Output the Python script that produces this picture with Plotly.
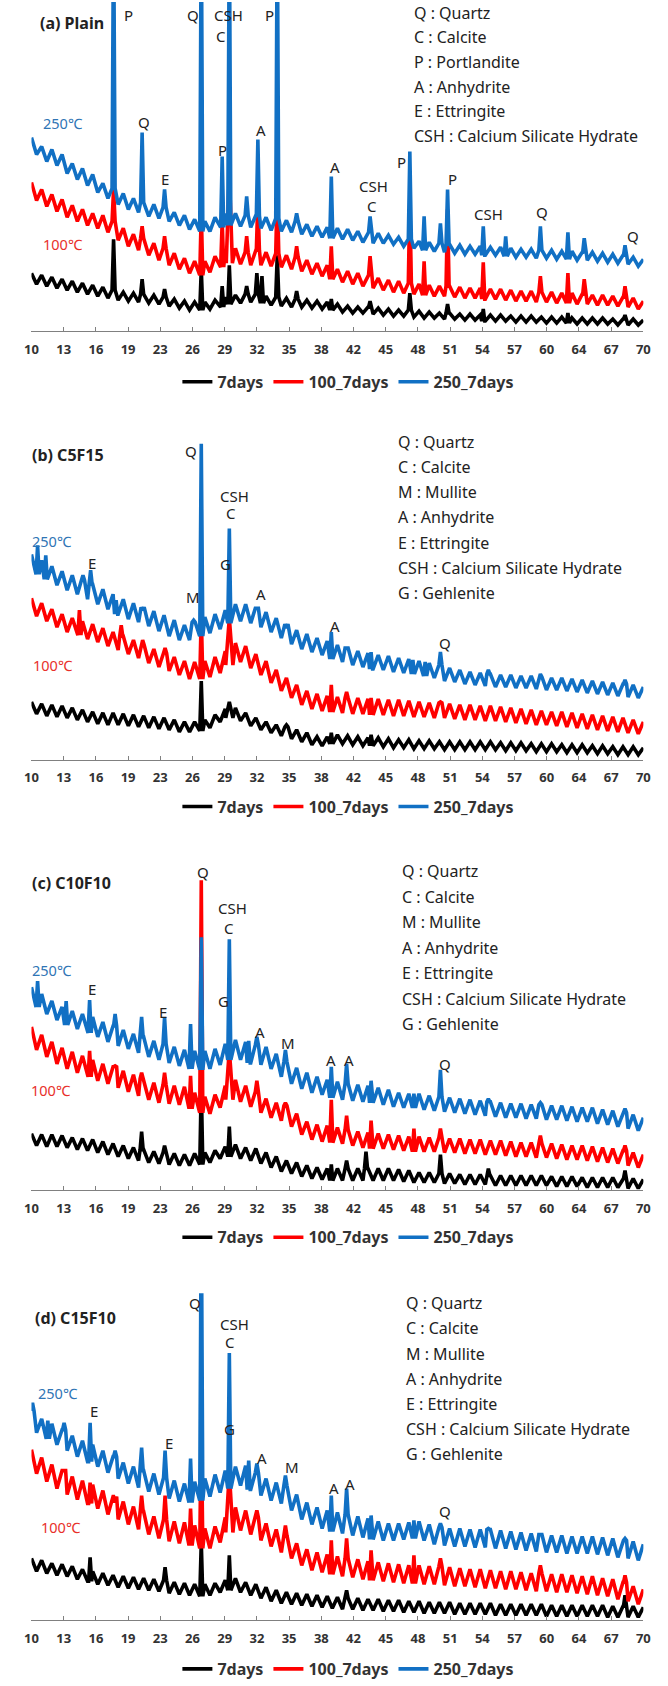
import plotly.graph_objects as go

# ---------------- data ----------------
two_theta = [10.0 + 0.5 * i for i in range(121)]  # 2-theta sampling grid (deg)

tick_labels = ["10", "13", "16", "19", "23", "26", "29", "32", "35", "38",
               "42", "45", "48", "51", "54", "57", "60", "64", "67", "70"]
series_names = ["7days", "100_7days", "250_7days"]
panel_titles = ["(a) Plain", "(b) C5F15", "(c) C10F10", "(d) C15F10"]

# ---- (a) Plain : background intensities (a.u.) ----
a_7days = [58,47,56,45,54,43,52,41,50,39,48,37,46,35,44,33,41,31,39,30,38,29,37,28,36,27,34,25,32,23,30,21,29,21,29,22,31,24,34,27,
           36,28,37,29,37,28,35,26,34,25,33,24,32,24,31,23,30,22,29,21,27,19,25,18,24,18,24,17,23,16,22,15,21,15,21,14,20,13,19,13,
           18,12,18,12,17,11,17,11,16,10,16,10,16,10,15,9,15,9,15,9,14,8,14,8,14,8,13,7,13,7,13,7,13,7,12,6,12,6,12,6,11]
a_100 = [149,131,142,125,137,120,132,114,126,110,122,106,118,103,116,99,110,91,103,85,97,81,93,76,88,71,83,66,78,62,73,58,70,56,70,59,75,64,82,68,
         83,67,79,66,81,66,79,65,78,64,76,62,74,60,71,57,68,55,66,52,62,49,60,47,58,45,56,43,53,41,51,39,50,38,48,37,47,36,46,35,
         45,35,45,34,44,33,43,33,43,32,42,32,42,31,41,30,40,30,40,29,39,29,39,28,38,28,38,27,37,27,36,26,36,26,35,25,34,24,33,22,30]
a_250 = [194,177,185,170,182,166,177,158,168,152,163,146,157,139,148,133,143,127,138,122,133,119,129,115,127,113,124,110,119,106,116,102,112,100,110,100,114,104,118,106,
         118,105,116,104,116,103,114,101,113,100,111,99,110,97,107,95,105,94,104,93,103,92,102,91,100,89,99,88,98,88,96,87,94,85,92,83,90,81,89,80,
         88,79,87,78,86,77,85,77,85,76,84,76,84,75,83,74,82,74,82,73,81,73,81,72,80,72,80,71,79,71,79,70,78,69,77,68,76,67,74,65,72]
# peaks: (2-theta, top intensity[, half width])
a_7days_peaks = [(18.05, 92), (20.85, 52), (23.05, 42), (26.65, 62), (28.7, 45), (29.4, 66), (31.1, 45), (32.1, 58), (32.6, 55),
                 (34.1, 76), (36.0, 40), (39.4, 32), (43.2, 30), (47.1, 38), (50.8, 27), (54.3, 22), (62.6, 18), (68.2, 16)]
a_100_peaks = [(18.05, 142), (20.85, 105), (23.05, 95), (26.65, 119), (28.7, 110), (29.4, 159, 0.3), (31.1, 95), (32.2, 132),
               (34.1, 142), (36.0, 85), (39.4, 85), (43.2, 75), (47.1, 132), (48.5, 70), (50.8, 122), (54.3, 69), (59.9, 55),
               (62.6, 58), (64.2, 52), (68.2, 45)]
a_250_peaks = [(18.05, 420), (20.85, 199), (23.05, 142), (26.65, 420), (28.7, 175), (29.4, 420), (31.1, 135), (32.2, 192),
               (34.1, 420), (36.0, 118), (39.4, 155), (43.2, 115), (47.1, 180), (48.5, 115), (50.1, 108), (50.8, 142),
               (54.3, 105), (56.5, 95), (59.9, 105), (62.6, 99), (64.2, 93), (68.2, 86)]

# ---- (b) C5F15 ----
b_7days = [58,46,56,44,55,43,54,42,52,40,50,38,48,36,47,35,47,35,46,34,45,33,44,32,43,31,42,30,40,28,38,28,38,29,40,32,45,38,51,42,
           52,39,47,34,42,30,38,27,35,24,33,21,30,18,27,15,23,14,23,16,25,16,24,15,23,14,22,14,22,13,21,12,20,12,20,11,19,11,19,11,
           18,10,18,10,18,10,18,10,18,10,18,10,17,9,17,9,17,9,16,8,16,8,16,8,15,7,15,7,15,7,14,6,14,6,13,5,13,5,13,5,12]
b_100 = [162,144,157,139,151,133,146,128,142,125,139,121,136,118,132,114,128,110,124,106,120,102,115,97,111,93,107,89,103,85,99,81,98,81,99,83,103,87,109,95,
         117,98,114,92,106,85,99,77,90,69,82,62,75,55,69,51,66,49,64,48,63,47,62,46,62,46,61,45,61,45,60,44,60,44,59,43,58,43,57,42,
         57,42,56,41,55,40,55,40,54,39,54,39,53,38,52,37,51,36,50,35,49,35,48,34,48,33,47,32,46,31,45,30,44,29,43,28,42,27,40,26,38]
b_250 = [206,186,200,181,194,175,189,170,185,166,180,161,176,156,171,151,166,146,161,141,157,138,153,134,149,129,145,124,140,120,135,120,138,124,143,127,146,131,150,137,
         156,139,156,137,152,133,148,128,142,122,136,116,130,111,126,108,122,105,119,101,115,98,112,95,109,93,107,91,105,90,104,88,102,87,101,86,99,84,97,82,
         95,79,92,78,90,76,88,75,87,74,86,73,85,73,85,72,84,72,84,71,83,70,82,70,82,69,81,68,80,67,79,66,78,65,77,64,76,63,75,62,73]
b_7days_peaks = [(26.65, 79), (29.4, 58, 0.35), (35.0, 35), (39.4, 27), (43.3, 25)]
b_100_peaks = [(14.7, 150), (18.8, 135), (20.9, 120), (23.1, 112), (26.65, 145), (29.4, 142, 0.35), (39.4, 75), (40.9, 68),
               (43.3, 62), (50.1, 58)]
b_250_peaks = [(10.6, 215), (11.4, 205), (15.05, 185), (15.8, 190), (18.3, 160), (20.9, 150), (25.9, 140), (26.65, 317),
               (29.4, 232), (32.1, 152), (35.0, 132), (39.4, 128), (40.9, 112), (43.3, 108), (47.4, 100), (48.6, 98),
               (50.1, 108), (54.8, 90), (59.9, 86), (68.2, 80)]

# ---- (c) C10F10 ----
c_7days = [57,45,56,44,56,44,55,43,53,41,52,40,51,38,49,36,47,34,45,32,43,30,41,28,39,27,38,26,37,25,36,25,37,26,38,28,40,32,44,34,
           46,32,43,30,42,27,38,23,34,19,30,17,28,14,25,12,23,11,22,10,22,10,22,10,22,10,22,10,22,10,22,10,21,9,20,8,18,8,18,8,
           17,7,17,7,16,6,16,6,16,6,15,5,15,5,15,5,15,5,15,5,15,5,14,4,14,4,14,4,13,3,13,3,13,3,13,3,12,2,12,2,11]
c_100 = [164,141,156,134,149,127,143,122,139,118,135,114,131,110,127,107,124,103,120,99,116,95,112,91,108,88,106,87,105,86,104,82,98,78,94,77,96,83,105,91,
         111,89,105,84,99,78,92,73,88,70,85,64,77,56,69,51,66,49,65,48,63,47,61,45,59,43,58,42,57,42,56,41,55,40,54,39,54,39,53,39,
         53,38,52,38,52,37,51,37,51,36,50,36,50,35,49,34,48,34,48,33,47,33,47,32,46,31,45,31,45,30,44,29,43,28,42,27,40,25,38,23,36]
c_250 = [204,184,197,177,190,171,184,166,180,162,177,158,174,154,169,149,165,145,161,142,157,138,154,134,150,131,147,128,144,125,141,122,140,121,140,122,142,126,147,131,
         151,131,149,128,146,126,144,122,137,114,129,107,123,102,118,98,114,96,111,93,109,91,107,90,106,89,105,88,103,86,101,84,98,83,97,83,97,81,95,80,
         94,79,93,78,92,77,91,76,90,75,89,74,88,73,87,73,87,72,86,72,86,71,85,71,85,70,84,69,83,69,83,67,81,66,80,64,78,62,76,60,73]
c_7days_peaks = [(20.8, 59), (23.05, 45), (26.65, 105), (29.4, 64), (39.4, 26), (40.9, 30), (42.8, 39), (50.1, 36),
                 (54.8, 22), (68.2, 20)]
c_100_peaks = [(15.7, 140), (18.2, 125), (20.8, 118), (23.05, 118), (25.6, 115), (26.65, 311), (29.4, 141, 0.35), (32.1, 110),
               (34.9, 88), (39.4, 91), (40.9, 75), (43.3, 70), (47.5, 62), (50.1, 62), (59.9, 55), (68.2, 45)]
c_250_peaks = [(10.6, 210), (13.4, 190), (15.7, 191), (18.2, 177), (20.8, 174), (23.05, 174), (25.6, 167), (26.65, 254),
               (29.4, 252), (31.3, 150), (32.1, 154), (34.9, 141), (39.4, 124), (40.9, 127), (43.3, 110), (47.5, 97),
               (50.1, 121), (54.8, 92), (59.9, 88), (68.2, 82)]

# ---- (d) C15F10 ----
d_7days = [62,49,60,47,57,45,56,44,54,41,51,39,49,36,47,35,45,33,44,32,43,31,42,30,41,29,40,27,38,26,37,25,36,24,36,25,37,28,40,30,
           42,28,38,25,36,22,33,19,30,17,28,16,27,15,26,14,25,13,24,12,23,11,22,11,22,10,21,10,21,9,20,9,20,8,19,8,19,7,18,7,
           18,7,18,6,17,6,17,6,17,6,17,5,16,5,16,5,16,5,16,5,16,4,15,4,15,4,15,4,15,4,15,4,15,3,14,3,14,3,14,3,13]
d_100 = [171,147,163,139,156,132,150,126,144,121,140,117,136,112,130,106,124,101,119,96,114,91,109,86,104,82,101,79,99,77,98,75,95,72,92,72,94,78,103,88,
         113,90,110,86,103,80,97,74,91,68,85,62,77,55,71,50,68,48,66,46,64,44,62,43,61,41,59,40,58,39,57,38,56,37,55,37,55,36,54,36,
         54,35,53,34,52,34,51,33,51,32,50,32,49,31,49,31,48,30,47,29,47,29,46,28,46,28,45,27,44,26,44,25,42,24,41,21,38,19,34,16,31]
d_250 = [210,188,202,182,197,176,191,170,185,164,180,159,176,154,170,148,164,142,158,137,154,133,150,129,147,126,143,122,140,119,137,118,139,120,142,124,146,128,150,132,
         154,135,155,131,148,125,142,120,138,117,135,110,126,101,118,96,113,92,110,89,108,87,106,85,104,83,102,81,99,80,97,80,97,81,98,82,99,80,96,76,
         93,75,92,74,92,74,91,73,91,73,91,72,90,72,89,71,88,70,87,69,86,68,85,68,85,67,84,67,84,67,84,66,83,65,82,63,80,62,79,60,76]
d_7days_peaks = [(15.75, 63), (23.1, 53), (26.65, 78), (29.4, 65), (40.9, 30), (68.2, 25)]
d_100_peaks = [(13.2, 150), (15.75, 138), (18.2, 118), (20.8, 125), (23.1, 125), (25.6, 112), (26.65, 200), (29.4, 148, 0.35),
               (32.1, 110), (34.9, 95), (39.4, 80), (40.9, 82), (43.3, 70), (47.5, 65), (50.1, 62), (59.9, 55), (68.2, 45)]
d_250_peaks = [(10.1, 218), (11.6, 200), (13.2, 198), (15.75, 198), (18.2, 170), (20.8, 173), (23.1, 170), (25.6, 162),
               (26.65, 420), (29.4, 268), (31.3, 160), (32.1, 157), (34.9, 145), (39.4, 125), (40.9, 132), (43.3, 105),
               (47.5, 100), (50.1, 97), (54.8, 92), (59.9, 86), (68.2, 82)]

# phase labels: (text, 2-theta, intensity)
a_labels = [("P", 19.5, 317), ("Q", 25.8, 317), ("CSH", 29.3, 317), ("C", 28.6, 296), ("P", 33.3, 317),
            ("Q", 21.0, 210), ("E", 23.1, 152), ("P", 28.75, 182), ("A", 32.5, 202), ("A", 39.8, 165),
            ("CSH", 43.5, 145), ("C", 43.4, 125), ("P", 46.3, 170), ("P", 51.25, 152), ("CSH", 54.8, 117),
            ("Q", 60.1, 119), ("Q", 69.0, 95)]
b_labels = [("Q", 25.6, 310), ("CSH", 29.9, 265), ("C", 29.6, 247), ("E", 15.9, 197), ("G", 29.0, 196),
            ("M", 25.8, 163), ("A", 32.5, 166), ("A", 39.8, 134), ("Q", 50.5, 117)]
c_labels = [("Q", 26.8, 319), ("CSH", 29.7, 283), ("C", 29.4, 263), ("E", 15.9, 202), ("E", 22.9, 179),
            ("G", 28.8, 190), ("A", 32.4, 159), ("M", 35.2, 148), ("A", 39.4, 131), ("A", 41.1, 131), ("Q", 50.5, 127)]
d_labels = [("Q", 26.0, 318), ("CSH", 29.9, 297), ("C", 29.5, 279), ("E", 16.1, 210), ("E", 23.5, 178),
            ("G", 29.4, 192), ("A", 32.6, 163), ("M", 35.5, 154), ("A", 39.7, 133), ("A", 41.25, 137), ("Q", 50.5, 110)]

phases_a = ["Q : Quartz", "C : Calcite", "P : Portlandite", "A : Anhydrite", "E : Ettringite",
            "CSH : Calcium Silicate Hydrate"]
phases_bcd = ["Q : Quartz", "C : Calcite", "M : Mullite", "A : Anhydrite", "E : Ettringite",
              "CSH : Calcium Silicate Hydrate", "G : Gehlenite"]
temp_labels = ["250℃", "100℃"]

# ---------------- layout / style ----------------
FIG_W, FIG_H = 668, 1686
AX_L, AX_R = 25, 650
FONT = "Noto Sans, Malgun Gothic, Arial, sans-serif"
COLORS = ["#000000", "#FF0000", "#1170C4"]
TEMP_COLORS = ["#2F75B5", "#E8302A"]
LINE_W = 3.6

panels = [
    dict(series=[a_7days, a_100, a_250], peaks=[a_7days_peaks, a_100_peaks, a_250_peaks], labels=a_labels,
         phases=phases_a, axis_px=332, top_px=2, title_xy=(32, 23), t250=(57, 123), t100=(57, 245),
         list_x=414, list_y0=13, list_dy=24.6, legend_y=383),
    dict(series=[b_7days, b_100, b_250], peaks=[b_7days_peaks, b_100_peaks, b_250_peaks], labels=b_labels,
         phases=phases_bcd, axis_px=762, top_px=440, title_xy=(24, 456), t250=(46, 543), t100=(47, 667),
         list_x=397, list_y0=443, list_dy=25.3, legend_y=809),
    dict(series=[c_7days, c_100, c_250], peaks=[c_7days_peaks, c_100_peaks, c_250_peaks], labels=c_labels,
         phases=phases_bcd, axis_px=1194, top_px=860, title_xy=(24, 886), t250=(46, 973), t100=(45, 1093),
         list_x=401, list_y0=874, list_dy=25.5, legend_y=1241),
    dict(series=[d_7days, d_100, d_250], peaks=[d_7days_peaks, d_100_peaks, d_250_peaks], labels=d_labels,
         phases=phases_bcd, axis_px=1625, top_px=1297, title_xy=(27, 1322), t250=(52, 1397), t100=(55, 1532),
         list_x=405, list_y0=1307, list_dy=25.3, legend_y=1674),
]


def px_x(x):
    return x / FIG_W


def px_y(y):
    return 1 - y / FIG_H


def build_pattern(xs, ys, peaks, w_default=0.15):
    windows = []
    for pk in peaks:
        w = pk[2] if len(pk) > 2 else w_default
        windows.append((pk[0], pk[1], w))
    pts = [(x, y) for x, y in zip(xs, ys)
           if not any(p - w <= x <= p + w for p, _, w in windows)]
    for p, top, w in windows:
        idx = min(range(len(xs)), key=lambda i: abs(xs[i] - p))
        foot = ys[idx]
        pts += [(p - w, foot), (p, top), (p + w, foot)]
    pts.sort(key=lambda t: t[0])
    return [t[0] for t in pts], [t[1] for t in pts]


tick_vals = [10 + i * 60 / 19 for i in range(20)]

fig = go.Figure()
annotations = []
layout_extra = {}

for k, pn in enumerate(panels):
    sfx = "" if k == 0 else str(k + 1)
    leg = "legend" + sfx
    for j in range(3):
        xs, ys = build_pattern(two_theta, pn["series"][j], pn["peaks"][j])
        fig.add_trace(go.Scatter(x=xs, y=ys, mode="lines", name=series_names[j],
                                 line=dict(color=COLORS[j], width=LINE_W),
                                 xaxis="x" + sfx, yaxis="y" + sfx, legend=leg))
    H = pn["axis_px"] - pn["top_px"]
    layout_extra["xaxis" + sfx] = dict(
        domain=[px_x(AX_L), px_x(AX_R)], anchor="y" + sfx, range=[10, 70],
        showgrid=False, zeroline=False, showline=True, linecolor="#808080", linewidth=1,
        ticks="inside", ticklen=4, tickcolor="#808080", tickvals=tick_vals, ticktext=tick_labels,
        tickfont=dict(family=FONT, size=13, color="#333333", weight="bold"), ticklabelstandoff=6)
    layout_extra["yaxis" + sfx] = dict(
        domain=[px_y(pn["axis_px"]), px_y(pn["top_px"])], anchor="x" + sfx, range=[0, H],
        visible=False, showgrid=False, zeroline=False)
    layout_extra[leg] = dict(
        orientation="h", x=0.522, xanchor="center", y=px_y(pn["legend_y"]), yanchor="middle",
        font=dict(family=FONT, size=16, color="#333333", weight="bold"), bgcolor="rgba(0,0,0,0)",
        itemwidth=30, tracegroupgap=0, traceorder="normal")

    # panel title
    tx, ty = pn["title_xy"]
    annotations.append(dict(text=panel_titles[k], x=px_x(tx), y=px_y(ty), xref="paper", yref="paper",
                            xanchor="left", yanchor="middle", showarrow=False,
                            font=dict(family=FONT, size=16, color="#222222", weight="bold")))
    # temperature labels
    for lbl, pos, col in zip(temp_labels, [pn["t250"], pn["t100"]], TEMP_COLORS):
        annotations.append(dict(text=lbl, x=px_x(pos[0]), y=px_y(pos[1]), xref="paper", yref="paper",
                                xanchor="center", yanchor="middle", showarrow=False,
                                font=dict(family=FONT, size=14.5, color=col)))
    # phase legend list
    for i, line in enumerate(pn["phases"]):
        annotations.append(dict(text=line, x=px_x(pn["list_x"]), y=px_y(pn["list_y0"] + i * pn["list_dy"]),
                                xref="paper", yref="paper", xanchor="left", yanchor="middle", showarrow=False,
                                font=dict(family=FONT, size=16, color="#222222")))
    # peak labels
    for txt, xx, yy in pn["labels"]:
        annotations.append(dict(text=txt, x=xx, y=yy, xref="x" + sfx, yref="y" + sfx,
                                xanchor="center", yanchor="middle", showarrow=False,
                                font=dict(family=FONT, size=15, color="#222222")))

fig.update_layout(
    width=FIG_W, height=FIG_H, margin=dict(l=0, r=0, t=0, b=0),
    paper_bgcolor="white", plot_bgcolor="white", showlegend=True,
    annotations=annotations, **layout_extra)

fig.write_html("out.html")
